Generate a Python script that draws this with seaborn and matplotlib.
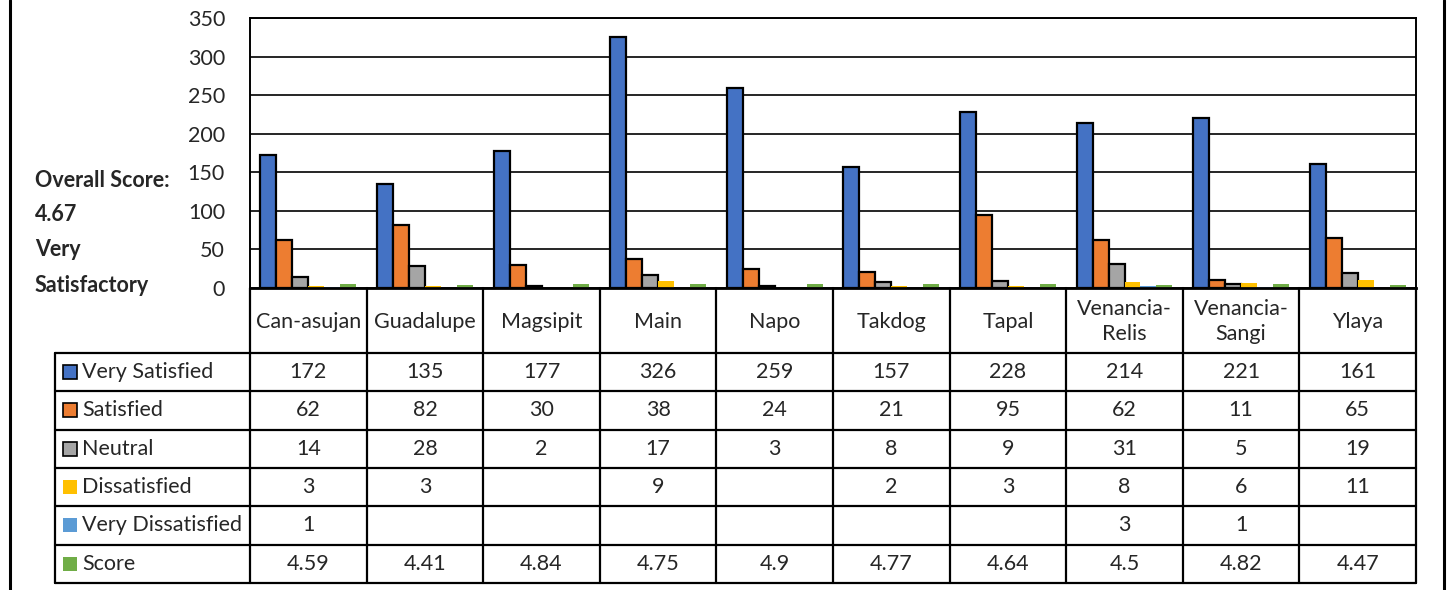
import numpy as np
import pandas as pd
import matplotlib
matplotlib.use("Agg")
import matplotlib.pyplot as plt
from matplotlib.lines import Line2D
from matplotlib.patches import Rectangle
import seaborn as sns

# ---- data ----
centers = ["Can-asujan", "Guadalupe", "Magsipit", "Main", "Napo", "Takdog",
           "Tapal", "Venancia-Relis", "Venancia-Sangi", "Ylaya"]
center_labels = ["Can-asujan", "Guadalupe", "Magsipit", "Main", "Napo", "Takdog",
                 "Tapal", "Venancia-\nRelis", "Venancia-\nSangi", "Ylaya"]
series = ["Very Satisfied", "Satisfied", "Neutral", "Dissatisfied",
          "Very Dissatisfied", "Score"]

very_satisfied = [172, 135, 177, 326, 259, 157, 228, 214, 221, 161]
satisfied = [62, 82, 30, 38, 24, 21, 95, 62, 11, 65]
neutral = [14, 28, 2, 17, 3, 8, 9, 31, 5, 19]
dissatisfied = [3, 3, None, 9, None, 2, 3, 8, 6, 11]
very_dissatisfied = [1, None, None, None, None, None, None, 3, 1, None]
score = [4.59, 4.41, 4.84, 4.75, 4.9, 4.77, 4.64, 4.5, 4.82, 4.47]

y_ticks = [0, 50, 100, 150, 200, 250, 300, 350]
overall_lines = ["Overall Score:", "4.67", "Very", "Satisfactory"]

colors = ["#4472C4", "#ED7D31", "#A5A5A5", "#FFC000", "#5B9BD5", "#70AD47"]
edged = [True, True, True, False, False, False]

values = [very_satisfied, satisfied, neutral, dissatisfied, very_dissatisfied, score]

rows = []
for s, vals in zip(series, values):
    for c, v in zip(centers, vals):
        rows.append({"Center": c, "Series": s,
                     "Count": np.nan if v is None else float(v)})
df = pd.DataFrame(rows)

# ---- figure ----
sns.set_theme(style="white")
FONT = ["Lato", "DejaVu Sans"]
plt.rcParams["font.family"] = FONT
FS = 15.5

W, H = 1452, 590
fig = plt.figure(figsize=(W / 100, H / 100), dpi=100)
fig.patch.set_facecolor("white")


def fx(px):
    return px / W


def fy(py):
    return 1 - py / H


# plot area geometry (pixels)
left, right, top, bottom = 250, 1416, 18, 288
col_w = (right - left) / len(centers)

ax = fig.add_axes([fx(left), fy(bottom), fx(right - left), (bottom - top) / H])
sns.barplot(data=df, x="Center", y="Count", hue="Series", order=centers,
            hue_order=series, palette=colors, saturation=1, width=0.823,
            ax=ax, legend=False, errorbar=None)

for cont, has_edge in zip(ax.containers, edged):
    for bar in cont:
        if has_edge:
            bar.set_edgecolor("black")
            bar.set_linewidth(1.6)
        else:
            bar.set_linewidth(0)

ax.set_xlim(-0.5, len(centers) - 0.5)
ax.set_ylim(0, 350)
ax.set_yticks(y_ticks)
ax.set_yticklabels([str(t) for t in y_ticks], fontsize=FS)
ax.set_xticks([])
ax.set_xlabel("")
ax.set_ylabel("")
ax.yaxis.grid(True, color="black", linewidth=1.2)
ax.set_axisbelow(True)
ax.tick_params(axis="y", length=0, pad=18)
for sp in ax.spines.values():
    sp.set_visible(True)
    sp.set_color("black")
    sp.set_linewidth(1.4)
ax.spines["bottom"].set_linewidth(2)

# ---- data table below the plot ----
lw = 1.6
header_bottom = 353
row_h = 38.3
table_left = 55
n_rows = len(series)
table_bottom = header_bottom + n_rows * row_h


def hline(x0, x1, y, w=lw):
    fig.add_artist(Line2D([fx(x0), fx(x1)], [fy(y), fy(y)], color="black",
                          linewidth=w, transform=fig.transFigure))


def vline(x, y0, y1, w=lw):
    fig.add_artist(Line2D([fx(x), fx(x)], [fy(y0), fy(y1)], color="black",
                          linewidth=w, transform=fig.transFigure))


# column borders
for i in range(len(centers) + 1):
    vline(left + i * col_w, bottom, table_bottom)
vline(table_left, header_bottom, table_bottom)
# row borders
for r in range(n_rows + 1):
    hline(table_left, right, header_bottom + r * row_h)

# header labels
for i, lab in enumerate(center_labels):
    fig.text(fx(left + (i + 0.5) * col_w), fy((bottom + header_bottom) / 2 + 1),
             lab, ha="center", va="center", fontsize=FS, linespacing=1.35)

# rows
for r, (name, vals, col, has_edge) in enumerate(zip(series, values, colors, edged)):
    yc = header_bottom + (r + 0.5) * row_h
    key = 14
    fig.add_artist(Rectangle((fx(63), fy(yc + key / 2)), fx(key), key / H,
                             facecolor=col,
                             edgecolor="black" if has_edge else "none",
                             linewidth=1.2 if has_edge else 0,
                             transform=fig.transFigure))
    fig.text(fx(82), fy(yc), name, ha="left", va="center", fontsize=FS)
    for i, v in enumerate(vals):
        if v is None:
            continue
        txt = f"{v:g}"
        fig.text(fx(left + (i + 0.5) * col_w), fy(yc), txt,
                 ha="center", va="center", fontsize=FS)

# overall score note
for k, line in enumerate(overall_lines):
    fig.text(fx(35), fy(180 + k * 35), line, ha="left", va="center",
             fontsize=FS, fontweight="bold")

# outer frame sides
vline(10, 0, H, w=2.2)
vline(1444, 0, H, w=2.2)

fig.savefig("out.png", dpi=100, facecolor="white")
